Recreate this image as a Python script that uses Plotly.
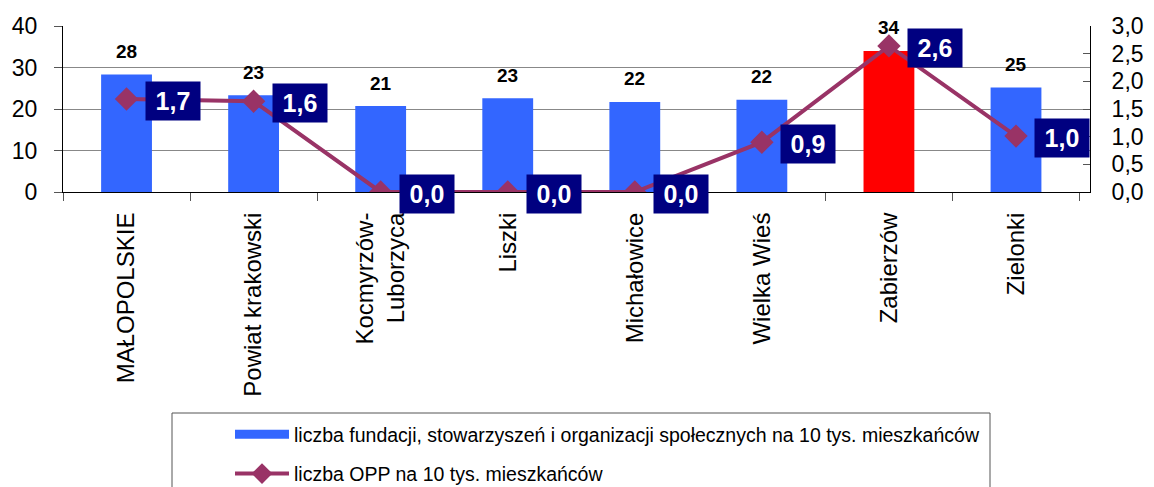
import plotly.graph_objects as go

categories = ["MAŁOPOLSKIE", "Powiat krakowski", "Kocmyrzów-<br>Luborzyca", "Liszki",
              "Michałowice", "Wielka Wieś", "Zabierzów", "Zielonki"]
org_values = [28.3, 23.3, 20.7, 22.6, 21.7, 22.2, 34.0, 25.2]
opp_values = [1.68, 1.64, 0.0, 0.0, 0.0, 0.90, 2.64, 1.01]
bar_colors = ["#3366FF"] * 6 + ["#FF0000", "#3366FF"]
series_names = ["liczba fundacji, stowarzyszeń i organizacji społecznych na 10 tys. mieszkańców",
                "liczba OPP na 10 tys. mieszkańców"]
left_ticks = [0, 10, 20, 30, 40]
right_ticks = [0, 0.5, 1.0, 1.5, 2.0, 2.5, 3.0]

FONT = "Arial, 'Liberation Sans', sans-serif"
W, H = 1154, 487
L, R, T, B = 63, 64, 26, 295
ph = H - T - B
pw = W - L - R

fig = go.Figure()
fig.add_trace(go.Bar(x=categories, y=org_values, name=series_names[0],
                     marker=dict(color=bar_colors, line=dict(width=0)),
                     width=0.4, showlegend=False, yaxis="y"))
# legend entry for the bar series (wide flat swatch as in the reference)
fig.add_trace(go.Scatter(x=[None], y=[None], name=series_names[0], mode="lines",
                         line=dict(color="#3366FF", width=9), legendgroup="a",
                         showlegend=True, hoverinfo="skip"))
fig.add_trace(go.Scatter(x=categories, y=opp_values, name=series_names[1],
                         mode="lines+markers", yaxis="y2", legendgroup="b",
                         line=dict(color="#993366", width=4),
                         marker=dict(symbol="diamond", size=18, color="#993366")))

annotations = []
for c, v in zip(categories, org_values):
    annotations.append(dict(x=c, y=v, xref="x", yref="y", text=f"<b>{v:.0f}</b>",
                            showarrow=False, yshift=23, yanchor="middle",
                            font=dict(family=FONT, size=19, color="black")))
for c, v in zip(categories, opp_values):
    annotations.append(dict(x=c, y=v, xref="x", yref="y2",
                            text=f"<b>{v:.1f}</b>".replace(".", ","),
                            showarrow=False, xanchor="left", xshift=18, yshift=-2,
                            yanchor="middle", bgcolor="#000080", borderpad=5,
                            width=44, height=28,
                            font=dict(family=FONT, size=25, color="white")))

shapes = [dict(type="rect", xref="paper", yref="paper",
               x0=(172 - L) / pw, x1=(990 - L) / pw,
               y0=(T + ph - 540) / ph, y1=(T + ph - 413) / ph,
               line=dict(color="#555555", width=1), fillcolor="rgba(0,0,0,0)")]

fig.update_layout(
    width=W, height=H,
    margin=dict(l=L, r=R, t=T, b=B, pad=0, autoexpand=False),
    paper_bgcolor="white", plot_bgcolor="white",
    separators=", ",
    font=dict(family=FONT, size=22, color="black"),
    showlegend=True,
    legend=dict(xref="container", yref="container",
                x=(230) / W, y=1 - 415 / H, xanchor="left", yanchor="top",
                orientation="v", traceorder="grouped", tracegroupgap=11,
                font=dict(family=FONT, size=19.5, color="black"),
                bgcolor="rgba(0,0,0,0)", borderwidth=0, itemwidth=54),
    xaxis=dict(type="category", showline=True, linecolor="black", linewidth=1,
               ticks="outside", tickson="boundaries", ticklen=8, tickcolor="#555555",
               tickangle=-90, tickfont=dict(family=FONT, size=24, color="black"),
               ticklabelstandoff=10, automargin=False,
               showgrid=False, zeroline=False),
    yaxis=dict(range=[0, 40], tickvals=left_ticks, showline=True, linecolor="black",
               linewidth=1, ticks="outside", ticklen=8, tickcolor="#555555",
               showgrid=True, gridcolor="#888888", gridwidth=1, zeroline=False,
               automargin=False,
               ticklabelstandoff=12, tickfont=dict(family=FONT, size=23, color="black")),
    yaxis2=dict(range=[0, 3], tickvals=right_ticks, tickformat=".1f", overlaying="y",
                side="right", showline=True, linecolor="black", linewidth=1,
                ticks="inside", ticklen=7, tickcolor="#555555", showgrid=False,
                zeroline=False, ticklabelstandoff=16, automargin=False,
                tickfont=dict(family=FONT, size=23, color="black")),
    annotations=annotations,
    shapes=shapes,
)

fig.write_html("out.html", config={"displayModeBar": False},
               post_script="document.body.style.margin='0';document.body.style.overflow='hidden';")
